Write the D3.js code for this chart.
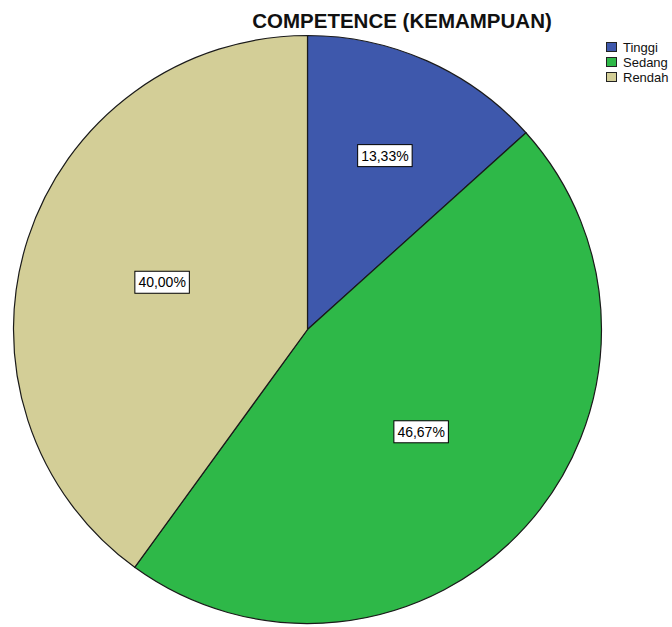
<!DOCTYPE html>
<html><head><meta charset="utf-8">
<script src="https://cdn.jsdelivr.net/npm/d3@7"></script>
<style>body{margin:0;background:#fff;}svg{display:block;}</style>
</head><body>
<svg id="c" width="672" height="627"></svg>
<script>
const categories = ["Tinggi", "Sedang", "Rendah"];
const values = [13.33, 46.67, 40.00];
const labels = ["13,33%", "46,67%", "40,00%"];
const colors = ["#3E58AC", "#2EB848", "#D3CE97"];
const title = "COMPETENCE (KEMAMPUAN)";

const svg = d3.select("#c");
const cx = 307.5, cy = 329.5, R = 294;
const g = svg.append("g").attr("transform", `translate(${cx},${cy})`);
const pie = d3.pie().sort(null).value(d => d)(values);
const arc = d3.arc().innerRadius(0).outerRadius(R);
g.selectAll("path.s").data(pie).join("path")
  .attr("class","s")
  .attr("d", arc)
  .attr("fill", (d,i) => colors[i])
  .attr("stroke", "#1a1a1a").attr("stroke-width", 1.2);

pie.forEach((d,i) => {
  const half = (d.endAngle - d.startAngle) / 2;
  const rc = Math.max(2 * R * Math.sin(half) / (3 * half), 0.52 * R);
  const [x,y] = d3.arc().innerRadius(rc).outerRadius(rc).centroid(d);
  const t = g.append("text").attr("x", x).attr("y", y)
    .attr("text-anchor","middle").attr("dominant-baseline","central")
    .attr("font-family","Liberation Sans, Arial, sans-serif").attr("font-size", 14)
    .attr("fill","#000").text(labels[i]);
  const bb = t.node().getBBox();
  g.insert("rect", () => t.node())
    .attr("x", bb.x - 3.5).attr("y", bb.y - 3).attr("width", bb.width + 7).attr("height", bb.height + 6)
    .attr("fill","#fff").attr("stroke","#000").attr("stroke-width",1);
});

svg.append("text").attr("x", 402).attr("y", 28)
  .attr("text-anchor","middle")
  .attr("font-family","Liberation Sans, Arial, sans-serif").attr("font-weight","bold")
  .attr("font-size", 20.5).attr("fill","#111").text(title);

const lg = svg.append("g").attr("transform","translate(606,42)");
categories.forEach((c,i) => {
  lg.append("rect").attr("x",0.5).attr("y", i*15 + 0.5).attr("width",10).attr("height",9)
    .attr("fill", colors[i]).attr("stroke","#222").attr("stroke-width",1);
  lg.append("text").attr("x", 17).attr("y", i*15 + 5).attr("dominant-baseline","central")
    .attr("font-family","Liberation Sans, Arial, sans-serif").attr("font-size", 13)
    .attr("fill","#111").text(c);
});
</script>
</body></html>
